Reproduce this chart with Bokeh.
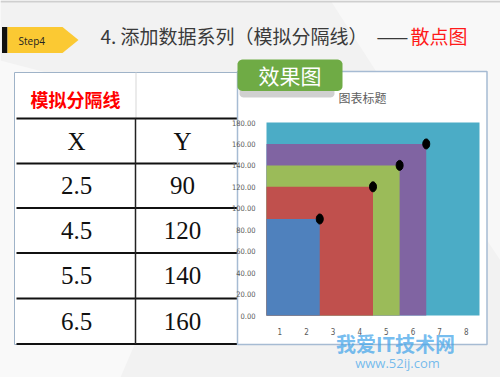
import numpy as np
from bokeh.plotting import figure
from bokeh.models import (FixedTicker, NumeralTickFormatter, Range1d, LinearAxis)
from bokeh.core.properties import value
from bokeh.embed import file_html
from bokeh.resources import INLINE

# ---------------- data ----------------
area_left = [0.5, 0.5, 0.5, 0.5, 0.5]
area_right = [8.5, 6.5, 5.5, 4.5, 2.5]
area_top = [180, 160, 140, 120, 90]
area_colors = ["#4bacc6", "#8064a2", "#9bbb59", "#c0504d", "#4f81bd"]

sep_x = [2.5, 4.5, 5.5, 6.5]
sep_y = [90, 120, 140, 160]

x_ticks = [1, 2, 3, 4, 5, 6, 7, 8]
y_ticks = [0, 20, 40, 60, 80, 100, 120, 140, 160, 180]

table_head = ["X", "Y"]
table_x = ["2.5", "4.5", "5.5", "6.5"]
table_y = ["90", "120", "140", "160"]

# ---------------- layout (page pixels) ----------------
W, H = 500, 377
FL, FR, FT, FB = 266, 479, 122, 315    # chart plot area
XMIN, XMAX = 0.5, 8.5
YMIN, YMAX = 0, 180
kx = (XMAX - XMIN) / (FR - FL)
ky = (YMAX - YMIN) / (FB - FT)

p = figure(width=W, height=H, output_backend="svg", toolbar_location=None,
           x_range=Range1d(0, W), y_range=Range1d(H, 0),
           x_axis_type=None, y_axis_type=None,
           min_border=0, min_border_left=0, min_border_right=0,
           min_border_top=0, min_border_bottom=0)
p.extra_x_ranges = {"cx": Range1d(XMIN - FL * kx, XMAX + (W - FR) * kx)}
p.extra_y_ranges = {"cy": Range1d(YMIN - (H - FB) * ky, YMAX + FT * ky)}
p.title.visible = False
p.outline_line_color = None
p.background_fill_color = "#f2f2f2"
p.border_fill_color = "#f2f2f2"
p.xgrid.visible = False
p.ygrid.visible = False

def box(x0, y0, x1, y1, fill, line=None, lw=1, alpha=1.0):
    p.quad(left=[x0], right=[x1], top=[y0], bottom=[y1], fill_color=fill,
           fill_alpha=alpha, line_color=line, line_width=lw)

def round_box(x0, y0, x1, y1, r, fill, alpha=1.0):
    xs, ys = [], []
    for cx, cy, a0 in [(x1 - r, y0 + r, -90), (x1 - r, y1 - r, 0),
                       (x0 + r, y1 - r, 90), (x0 + r, y0 + r, 180)]:
        t = np.radians(np.linspace(a0, a0 + 90, 7))
        xs += list(cx + r * np.cos(t))
        ys += list(cy + r * np.sin(t))
    p.patch(xs, ys, fill_color=fill, fill_alpha=alpha, line_color=None)

def label(X, Y, txt, size, color, font="Noto Sans CJK SC", align="center",
          style="normal", alpha=1.0, level="glyph"):
    p.text(x=[X], y=[Y], text=[txt], text_font=value(font),
           text_font_size=f"{size}px", text_color=color, text_align=align,
           text_baseline="middle", text_font_style=style, text_alpha=alpha,
           level=level)

# subtle slide facets
p.patch([0, 230, 120, 0], [60, 120, 377, 377], fill_color="white", fill_alpha=0.5,
        line_color=None)
p.patch([330, 500, 500, 420], [0, 0, 260, 140], fill_color="white", fill_alpha=0.45,
        line_color=None)
box(0, 0, 500, 2, "#cfcfcf")

# Step4 tag
box(1.5, 26.5, 7, 52.5, "#111111")
p.patch([7, 62, 78, 62, 7], [26.5, 26.5, 39.5, 52.5, 52.5], fill_color="#fbc933",
        line_color=None)
label(18, 40, "Step4", 10, "#222222", font="Open Sans", align="left")

# title
label(100, 35, "4. 添加数据系列（模拟分隔线）", 19, "#3a3a3a", align="left")
label(392, 35, "——", 19, "#3a3a3a", align="center")
label(410, 35, "散点图", 19, "#ff1a1a", align="left")

# table
TL, TM, TR = 14, 135, 237
row_lines = [118, 163, 207.5, 252.5, 298, 343.5]
box(TL, 72, TR, 344, "white", line="#9fb3c8", lw=1)
box(TM, 72, TM + 1, 118, "#d8d8d8")
for yline in row_lines:
    box(TL + 2, yline - 1, TR, yline + 1, "#111111")
box(TM - 0.75, 118, TM + 0.75, 343.5, "#222222")
label(75, 98, "模拟分隔线", 18, "#ff0000", style="bold")
cx_l, cx_r = 76, 182
centers = [(a + b) / 2 for a, b in zip(row_lines[:-1], row_lines[1:])]
tf, ts = "Liberation Serif", 25
label(cx_l, centers[0], table_head[0], ts, "#111111", font=tf)
label(cx_r, centers[0], table_head[1], ts, "#111111", font=tf)
for i in range(4):
    label(cx_l, centers[i + 1], table_x[i], ts, "#111111", font=tf)
    label(cx_r, centers[i + 1], table_y[i], ts, "#111111", font=tf)

# chart box
box(237, 71, 486.5, 344, "white", line="#a6bbd3", lw=1.5)
label(362, 97, "图表标题", 12, "#606060")

# green tag with shadow
round_box(239, 84, 334, 97, 4, "#c4c4c4", alpha=0.8)
round_box(237, 59, 342, 90.5, 5, "#6fab45")
label(289.5, 74.5, "效果图", 21, "white")

# ---------------- chart glyphs ----------------
p.quad(left=area_left, right=area_right, bottom=0, top=area_top,
       fill_color=area_colors, line_color=None, x_range_name="cx", y_range_name="cy")
p.ellipse(x=sep_x, y=sep_y, width=7, height=10, width_units="screen",
          height_units="screen", fill_color="black", line_color="black",
          x_range_name="cx", y_range_name="cy")

xax = LinearAxis(x_range_name="cx", y_range_name="cy", fixed_location=YMIN,
                 bounds=(XMIN, XMAX), ticker=FixedTicker(ticks=x_ticks))
yax = LinearAxis(x_range_name="cx", y_range_name="cy", fixed_location=XMIN,
                 bounds=(YMIN, YMAX), ticker=FixedTicker(ticks=y_ticks),
                 formatter=NumeralTickFormatter(format="0.00"))
for ax in (xax, yax):
    ax.axis_line_color = None
    ax.major_tick_line_color = None
    ax.minor_tick_line_color = None
    ax.major_label_text_color = "#595959"
    ax.major_label_text_font = "DejaVu Sans Condensed"
yax.major_label_text_font_size = "7.5px"
xax.major_label_text_font_size = "8px"
yax.major_label_standoff = 5
xax.major_label_standoff = 6
p.add_layout(xax, "below")
p.add_layout(yax, "left")

# watermark
label(395, 343, "我爱IT技术网", 20, "#4aa8ea", style="bold", alpha=0.75, level="overlay")
label(397, 362, "www.52ij.com", 13, "#4aa8ea", font="Open Sans", alpha=0.75,
      level="overlay")

open("out.html", "w").write(file_html(p, INLINE))
